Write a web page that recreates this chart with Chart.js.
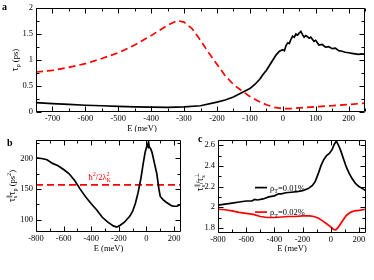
<!DOCTYPE html>
<html><head><meta charset="utf-8">
<script src="https://cdn.jsdelivr.net/npm/chart.js@4.4.0/dist/chart.umd.min.js"></script>
<style>
html,body{margin:0;padding:0;background:#fff;width:374px;height:280px;overflow:hidden}
.c{position:absolute}
</style></head><body>
<div class="c" style="left:0;top:0;width:374px;height:132px"><canvas id="ca"></canvas></div>
<div class="c" style="left:0;top:132px;width:190px;height:148px"><canvas id="cb"></canvas></div>
<div class="c" style="left:190px;top:132px;width:184px;height:148px"><canvas id="cc"></canvas></div>
<script>
// ---------- Panel a data ----------
const aBlackE = [-750,-700,-650,-600,-550,-500,-450,-400,-350,-300,-250,-200,-175,-150,-125,-100,-85,-70,-60,-50,-40,-30,-20,-10,0,5,10,15,20,25,30,35,40,45,50,55,60,65,70,75,80,85,90,95,100,110,120,130,140,150,160,170,180,190,200,210,220,230,240,250];
const aBlackTau = [0.18,0.16,0.145,0.13,0.12,0.11,0.10,0.095,0.09,0.10,0.12,0.19,0.23,0.29,0.37,0.45,0.53,0.63,0.72,0.80,0.90,1.00,1.10,1.17,1.20,1.18,1.28,1.33,1.32,1.40,1.46,1.44,1.50,1.48,1.52,1.55,1.49,1.44,1.47,1.45,1.42,1.44,1.40,1.36,1.38,1.29,1.30,1.25,1.26,1.22,1.23,1.18,1.17,1.15,1.14,1.13,1.12,1.11,1.12,1.11];
const aRedE = [-750,-700,-650,-600,-550,-500,-450,-400,-350,-320,-300,-275,-250,-225,-200,-175,-150,-125,-100,-75,-50,-25,0,25,50,100,150,200,250];
const aRedTau = [0.77,0.80,0.86,0.93,1.03,1.14,1.29,1.47,1.67,1.76,1.73,1.60,1.38,1.14,0.92,0.70,0.53,0.41,0.30,0.21,0.14,0.09,0.065,0.065,0.08,0.10,0.12,0.145,0.17];
const aXTicks = [-700,-600,-500,-400,-300,-200,-100,0,100,200];
const aXMinor = [-750,-650,-550,-450,-350,-250,-150,-50,50,150,250];
const aYTicks = [0,0.5,1,1.5,2];
const aYMinor = [0.25,0.75,1.25,1.75];

// ---------- Panel b data ----------
const bE = [-800,-760,-720,-680,-640,-600,-560,-520,-480,-440,-400,-360,-320,-280,-240,-215,-190,-160,-120,-100,-80,-60,-40,-25,-10,0,5,10,15,20,30,40,60,75,90,100,120,140,160,180,200,220,240,250];
const bProduct = [201,200,198,192,188,182,175,164,150,137,126,116,104,96,90,88,91,96,106,114,127,145,168,190,210,218,222,220,227,219,216,210,190,175,150,138,133,129,126,123,122,122,124,125];
const bRefE = [-800,250];
const bRefValue = [157,157];
const bXTicks = [-800,-600,-400,-200,0,200];
const bXMinor = [-700,-500,-300,-100,100];
const bYTicks = [100,150,200];
const bYMinor = [125,175,225];

// ---------- Panel c data ----------
const cBlackE = [-800,-750,-700,-650,-600,-560,-540,-520,-480,-440,-400,-370,-350,-320,-280,-240,-200,-160,-130,-110,-90,-70,-50,-30,-10,10,25,40,55,70,90,110,130,150,175,200,225,250];
const cBlackRatio = [2.02,2.03,2.04,2.05,2.06,2.06,2.075,2.07,2.08,2.10,2.11,2.13,2.13,2.14,2.145,2.15,2.16,2.18,2.21,2.25,2.32,2.40,2.46,2.50,2.52,2.56,2.61,2.64,2.60,2.55,2.47,2.39,2.33,2.28,2.23,2.20,2.18,2.16];
const cRedE = [-800,-750,-700,-650,-600,-550,-500,-450,-400,-350,-300,-250,-200,-150,-120,-90,-60,-30,0,20,35,50,70,90,110,140,170,200,250];
const cRedRatio = [1.98,1.975,1.965,1.95,1.94,1.93,1.91,1.90,1.90,1.905,1.91,1.91,1.915,1.915,1.91,1.895,1.87,1.84,1.81,1.785,1.78,1.80,1.84,1.88,1.92,1.95,1.965,1.97,1.98];
const cXTicks = [-800,-600,-400,-200,0,200];
const cXMinor = [-700,-500,-300,-100,100];
const cYTicks = [1.8,2,2.2,2.4,2.6];
const cYMinor = [1.9,2.1,2.3,2.5];
const cLegend = ['0.01%','0.02%'];

const F = "'Liberation Serif'";
const FS = 8.5;
const pts = (xs, ys) => xs.map((x, i) => ({x, y: ys[i]}));

function rich(ctx, x, y, parts, opt) {
  const base = opt.size || FS;
  ctx.save();
  ctx.translate(x, y);
  if (opt.rot) ctx.rotate(opt.rot);
  ctx.fillStyle = opt.color || '#000';
  ctx.textBaseline = 'alphabetic';
  ctx.textAlign = 'left';
  let w = 0; const items = [];
  for (const p of parts) {
    if (p.n !== undefined) {
      ctx.font = `${p.b ? 'bold ' : ''}${p.s || base}px ${F}`;
      items.push({t: p.n, dx: w, dy: 0, f: ctx.font});
      w += ctx.measureText(p.n).width;
    } else {
      ctx.font = `${base * 0.72}px ${F}`;
      let mw = 0;
      if (p.sup) { items.push({t: p.sup, dx: w, dy: -base * 0.42, f: ctx.font}); mw = Math.max(mw, ctx.measureText(p.sup).width); }
      if (p.sub) { items.push({t: p.sub, dx: w, dy: base * 0.3, f: ctx.font}); mw = Math.max(mw, ctx.measureText(p.sub).width); }
      w += mw;
    }
  }
  const x0 = opt.align === 'center' ? -w / 2 : opt.align === 'right' ? -w : 0;
  for (const it of items) { ctx.font = it.f; ctx.fillText(it.t, x0 + it.dx, it.dy); }
  ctx.restore();
}

const frame = {
  id: 'frame',
  afterDatasetsDraw(chart, args, o) {
    const {ctx, chartArea: a, scales: {x, y}} = chart;
    ctx.save();
    ctx.strokeStyle = '#000'; ctx.lineWidth = 1;
    const L = Math.round(a.left) + 0.5, R = Math.round(a.right) - 0.5, T = Math.round(a.top) + 0.5, B = Math.round(a.bottom) - 0.5;
    ctx.beginPath();
    ctx.rect(L, T, R - L, B - T);
    for (const [vals, len] of [[o.xMajor, 5], [o.xMinor, 3]]) for (const v of vals) {
      const p = Math.round(x.getPixelForValue(v)) + 0.5;
      ctx.moveTo(p, B); ctx.lineTo(p, B - len); ctx.moveTo(p, T); ctx.lineTo(p, T + len);
    }
    for (const [vals, len] of [[o.yMajor, 5], [o.yMinor, 3]]) for (const v of vals) {
      const p = Math.round(y.getPixelForValue(v)) + 0.5;
      ctx.moveTo(L, p); ctx.lineTo(L + len, p); ctx.moveTo(R, p); ctx.lineTo(R - len, p);
    }
    ctx.stroke();
    ctx.restore();
    if (o.texts) o.texts(chart);
  }
};
Chart.register(frame);

function axes(xmin, xmax, xt, ymin, ymax, yt, yw, xh) {
  const tickFont = {family: F, size: FS};
  return {
    x: {type: 'linear', min: xmin, max: xmax,
        grid: {display: false, drawTicks: false}, border: {display: false},
        ticks: {font: tickFont, color: '#000', padding: 2, maxRotation: 0, autoSkip: false},
        afterBuildTicks: s => { s.ticks = xt.map(v => ({value: v})); },
        afterFit: s => { s.height = xh; }},
    y: {type: 'linear', min: ymin, max: ymax,
        grid: {display: false, drawTicks: false}, border: {display: false},
        ticks: {font: tickFont, color: '#000', padding: 3, autoSkip: false, callback: v => String(v)},
        afterBuildTicks: s => { s.ticks = yt.map(v => ({value: v})); },
        afterFit: s => { s.width = yw; }}
  };
}

const common = {responsive: true, maintainAspectRatio: false, animation: false,
  plugins: {legend: {display: false}, tooltip: {enabled: false}},
  elements: {point: {radius: 0}, line: {tension: 0}}};

function build() {
// Panel a
new Chart(document.getElementById('ca'), {
  type: 'line',
  data: {datasets: [
    {data: pts(aBlackE, aBlackTau), borderColor: '#000', borderWidth: 1.7, fill: false},
    {data: pts(aRedE, aRedTau), borderColor: '#ff0000', borderWidth: 1.7, borderDash: [7, 4], fill: false}
  ]},
  options: {...common,
    layout: {padding: {top: 3, right: 9, left: 0, bottom: 0}},
    scales: axes(-750, 250, aXTicks, 0, 2, aYTicks, 36, 20),
    plugins: {...common.plugins, frame: {xMajor: aXTicks, xMinor: aXMinor, yMajor: aYTicks, yMinor: aYMinor,
      texts: ch => {
        const c = ch.ctx, a = ch.chartArea;
        rich(c, 2, 10, [{n: 'a', b: 1, s: 10}], {});
        rich(c, 142, 130.5, [{n: 'E (meV)'}], {align: 'center'});
        rich(c, 17.5, (a.top + a.bottom) / 2, [{n: 'τ', s: 9.5}, {sub: 'p'}, {n: ' (ps)'}], {align: 'center', rot: -Math.PI / 2});
      }}}
  }
});

// Panel b
new Chart(document.getElementById('cb'), {
  type: 'line',
  data: {datasets: [
    {data: pts(bE, bProduct), borderColor: '#000', borderWidth: 1.7, fill: false},
    {data: pts(bRefE, bRefValue), borderColor: '#ff0000', borderWidth: 1.7, borderDash: [7, 4], fill: false}
  ]},
  options: {...common,
    layout: {padding: {top: 4, right: 9, left: 0, bottom: 0}},
    scales: axes(-800, 250, bXTicks, 80, 230, bYTicks, 36, 48),
    plugins: {...common.plugins, frame: {xMajor: bXTicks, xMinor: bXMinor, yMajor: bYTicks, yMinor: bYMinor,
      texts: ch => {
        const c = ch.ctx, a = ch.chartArea, sx = ch.scales.x, sy = ch.scales.y;
        rich(c, 7, 14, [{n: 'b', b: 1, s: 10}], {});
        rich(c, (a.left + a.right) / 2, 119, [{n: 'E (meV)'}], {align: 'center'});
        rich(c, 14.5, (a.top + a.bottom) / 2, [{n: 'τ', s: 9.5}, {sup: '∥', sub: 's'}, {n: 'τ', s: 9.5}, {sub: 'p'}, {n: ' (ps'}, {sup: '2'}, {n: ')'}], {align: 'center', rot: -Math.PI / 2});
        rich(c, sx.getPixelForValue(-420), sy.getPixelForValue(bRefValue[0]) - 5, [{n: 'ħ'}, {sup: '2'}, {n: '/2λ'}, {sup: '2', sub: 'K'}], {color: '#ff0000'});
      }}}
  }
});

// Panel c
new Chart(document.getElementById('cc'), {
  type: 'line',
  data: {datasets: [
    {data: pts(cBlackE, cBlackRatio), borderColor: '#000', borderWidth: 1.7, fill: false},
    {data: pts(cRedE, cRedRatio), borderColor: '#ff0000', borderWidth: 1.7, fill: false}
  ]},
  options: {...common,
    layout: {padding: {top: 3, right: 8, left: 0, bottom: 0}},
    scales: axes(-800, 250, cXTicks, 1.75, 2.65, cYTicks, 28, 47),
    plugins: {...common.plugins, frame: {xMajor: cXTicks, xMinor: cXMinor, yMajor: cYTicks, yMinor: cYMinor,
      texts: ch => {
        const c = ch.ctx, a = ch.chartArea;
        rich(c, 8, 10, [{n: 'c', b: 1, s: 10}], {});
        rich(c, (a.left + a.right) / 2, 119, [{n: 'E (meV)'}], {align: 'center'});
        rich(c, 12.5, 50, [{n: 'τ', s: 9.5}, {sup: '∥', sub: 's'}, {n: '/τ', s: 9.5}, {sup: '⊥', sub: 's'}], {align: 'center', rot: -Math.PI / 2});
        const cols = ['#000', '#ff0000'];
        cLegend.forEach((t, i) => {
          const yy = a.top + 47.5 + i * 24.5;
          c.save(); c.strokeStyle = cols[i]; c.lineWidth = 1.7;
          c.beginPath(); c.moveTo(a.left + 37, yy); c.lineTo(a.left + 49, yy); c.stroke(); c.restore();
          rich(c, a.left + 52, yy + 3, [{n: 'ρ'}, {sub: 'T'}, {n: '=' + t}], {});
        });
      }}}
  }
});
}
build();
</script>
</body></html>
